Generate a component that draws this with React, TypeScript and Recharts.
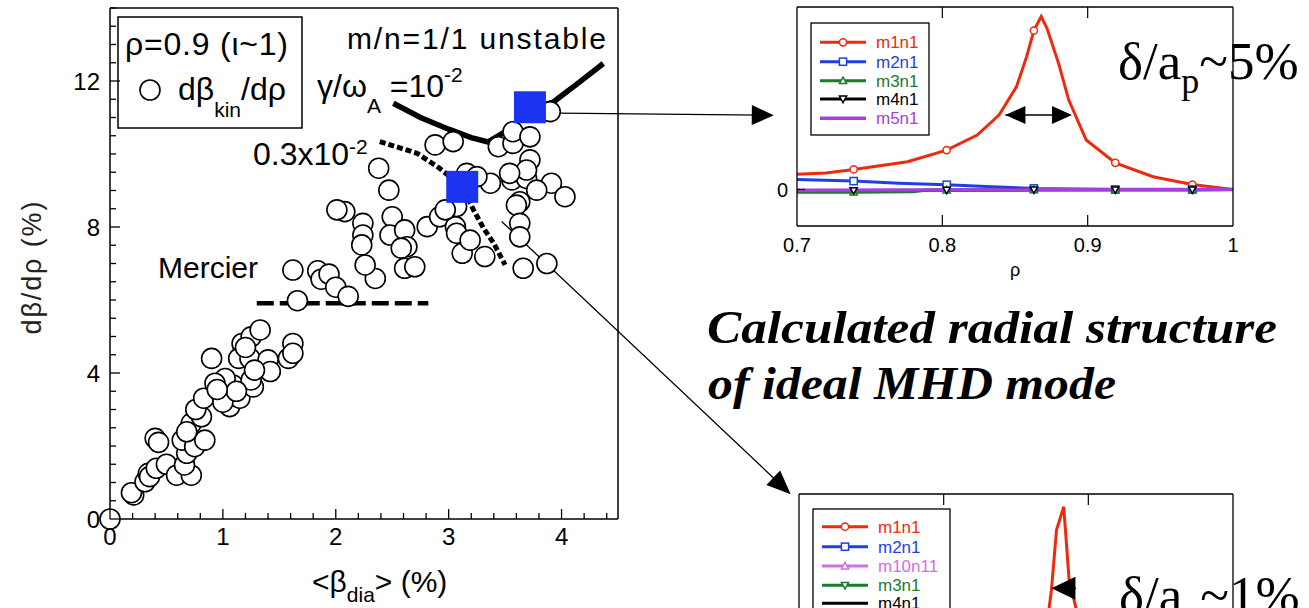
import React from 'react';
import { ComposedChart, Scatter, Line, XAxis, YAxis, ReferenceLine } from 'recharts';

const SANS = '"Liberation Sans", Arial, Helvetica, sans-serif';
const SERIF = '"Liberation Serif", "Times New Roman", serif';

const RED = '#ee2a0c';
const BLUE = '#1f3fe6';
const GREEN = '#1b7c2c';
const PURPLE = '#a440e0';
const ORCHID = '#d26ee4';
const SQUARE_BLUE = '#1a34f2';

// ---- main panel: <beta_dia> (%) vs d beta / d rho (%) at rho = 0.9
const betaTicks = [0, 0.2, 0.4, 0.6, 0.8, 1, 1.2, 1.4, 1.6, 1.8, 2, 2.2, 2.4, 2.6, 2.8, 3, 3.2, 3.4, 3.6, 3.8, 4, 4.2, 4.4];
const gradTicks = [0, 0.5, 1, 1.5, 2, 2.5, 3, 3.5, 4, 4.5, 5, 5.5, 6, 6.5, 7, 7.5, 8, 8.5, 9, 9.5, 10, 10.5, 11, 11.5, 12, 12.5, 13, 13.5, 14];

const kinetic = [
  { x: 0, y: 0 },
  { x: 0.21, y: 0.66 }, { x: 0.19, y: 0.72 }, { x: 0.31, y: 1.02 }, { x: 0.34, y: 1.25 }, { x: 0.35, y: 1.16 },
  { x: 0.41, y: 1.39 }, { x: 0.40, y: 2.21 }, { x: 0.43, y: 2.1 }, { x: 0.5, y: 1.5 }, { x: 0.59, y: 1.2 },
  { x: 0.72, y: 1.2 }, { x: 0.66, y: 1.48 }, { x: 0.68, y: 1.8 }, { x: 0.64, y: 2.16 }, { x: 0.75, y: 1.98 },
  { x: 0.84, y: 2.16 }, { x: 0.72, y: 2.62 }, { x: 0.68, y: 2.39 }, { x: 0.81, y: 2.8 }, { x: 0.76, y: 3.0 },
  { x: 0.83, y: 3.31 }, { x: 0.99, y: 3.4 }, { x: 1.06, y: 3.08 }, { x: 0.9, y: 4.4 }, { x: 1.09, y: 3.67 },
  { x: 1.15, y: 3.31 }, { x: 1.27, y: 3.62 }, { x: 1.17, y: 4.81 }, { x: 1.25, y: 4.99 }, { x: 1.33, y: 5.18 },
  { x: 1.14, y: 4.4 }, { x: 1.24, y: 4.4 }, { x: 1.4, y: 4.36 }, { x: 1.42, y: 4.04 }, { x: 1.58, y: 4.4 },
  { x: 1.62, y: 4.81 }, { x: 1.62, y: 4.54 }, { x: 1.02, y: 3.85 }, { x: 0.93, y: 3.72 }, { x: 1.25, y: 3.81 },
  { x: 1.28, y: 4.08 }, { x: 1.0, y: 3.2 }, { x: 1.12, y: 3.5 }, { x: 0.95, y: 3.55 }, { x: 1.2, y: 4.7 },
  { x: 1.66, y: 5.98 }, { x: 1.62, y: 6.82 }, { x: 1.84, y: 6.8 }, { x: 1.87, y: 6.57 }, { x: 1.94, y: 6.71 },
  { x: 2.0, y: 6.35 }, { x: 2.11, y: 6.1 }, { x: 2.35, y: 6.59 }, { x: 2.26, y: 6.96 },
  { x: 2.38, y: 9.61 }, { x: 2.47, y: 9.01 }, { x: 2.08, y: 8.42 }, { x: 2.01, y: 8.47 }, { x: 2.24, y: 8.1 },
  { x: 2.24, y: 7.78 }, { x: 2.23, y: 7.51 }, { x: 2.5, y: 8.28 }, { x: 2.48, y: 7.78 }, { x: 2.61, y: 7.92 },
  { x: 2.63, y: 7.46 }, { x: 2.58, y: 7.42 }, { x: 2.61, y: 6.87 }, { x: 2.7, y: 6.91 }, { x: 2.81, y: 8.01 },
  { x: 2.92, y: 8.28 }, { x: 3.06, y: 8.01 }, { x: 3.07, y: 7.83 }, { x: 3.12, y: 7.28 }, { x: 3.19, y: 7.64 },
  { x: 3.32, y: 7.19 }, { x: 2.88, y: 10.25 }, { x: 3.04, y: 10.34 }, { x: 3.44, y: 10.2 }, { x: 3.57, y: 10.29 },
  { x: 3.57, y: 10.61 }, { x: 3.72, y: 10.47 }, { x: 3.72, y: 9.84 }, { x: 3.37, y: 9.2 }, { x: 3.56, y: 9.29 },
  { x: 3.69, y: 9.33 }, { x: 3.69, y: 9.56 }, { x: 3.91, y: 9.2 }, { x: 4.03, y: 8.83 }, { x: 3.78, y: 9.01 },
  { x: 3.63, y: 8.69 }, { x: 3.6, y: 8.6 }, { x: 3.63, y: 8.1 }, { x: 3.63, y: 7.73 }, { x: 3.66, y: 6.87 },
  { x: 3.87, y: 7.0 }, { x: 3.16, y: 9.47 }, { x: 3.25, y: 9.38 }, { x: 3.07, y: 8.56 }, { x: 2.97, y: 8.47 },
  { x: 3.54, y: 9.47 }, { x: 3.9, y: 11.16 },
];

// shots picked for the mode structure calculation
const selected = [{ x: 3.72, y: 11.28 }, { x: 3.12, y: 9.1 }];

// unstable boundaries
const growth1e2 = [
  { x: 2.51, y: 11.39 }, { x: 2.75, y: 11.0 }, { x: 3.0, y: 10.68 }, { x: 3.2, y: 10.45 }, { x: 3.35, y: 10.33 },
  { x: 3.55, y: 10.7 }, { x: 3.72, y: 11.2 }, { x: 3.93, y: 11.43 }, { x: 4.15, y: 11.95 }, { x: 4.37, y: 12.48 },
];
const growth3e3 = [
  { x: 2.39, y: 10.34 }, { x: 2.72, y: 10.02 }, { x: 2.92, y: 9.61 }, { x: 3.12, y: 9.1 }, { x: 3.22, y: 8.47 },
  { x: 3.31, y: 7.96 }, { x: 3.4, y: 7.55 }, { x: 3.5, y: 6.96 },
];
const mercier = [{ x: 1.3, y: 5.91 }, { x: 2.82, y: 5.91 }];

// ---- insets: radial structure vs rho
const rhoTicks = [0.7, 0.8, 0.9, 1.0];

const topM1n1 = [
  { x: 0.7, y: 0.084 }, { x: 0.72, y: 0.091 }, { x: 0.739, y: 0.11, mk: true }, { x: 0.776, y: 0.152 },
  { x: 0.803, y: 0.216, mk: true }, { x: 0.824, y: 0.298 }, { x: 0.839, y: 0.408 }, { x: 0.851, y: 0.563 },
  { x: 0.858, y: 0.728 }, { x: 0.863, y: 0.871, mk: true }, { x: 0.868, y: 0.948 }, { x: 0.872, y: 0.883 },
  { x: 0.88, y: 0.691 }, { x: 0.887, y: 0.49 }, { x: 0.899, y: 0.271 }, { x: 0.919, y: 0.146, mk: true },
  { x: 0.945, y: 0.07 }, { x: 0.972, y: 0.027, mk: true }, { x: 1.0, y: 0 },
];
const topM2n1 = [
  { x: 0.7, y: 0.055 }, { x: 0.739, y: 0.046, mk: true }, { x: 0.77, y: 0.034 }, { x: 0.803, y: 0.026, mk: true },
  { x: 0.83, y: 0.016 }, { x: 0.863, y: 0.006, mk: true }, { x: 0.919, y: 0.0, mk: true }, { x: 0.972, y: 0, mk: true },
  { x: 1.0, y: 0 },
];
const topM3n1 = [
  { x: 0.7, y: -0.015 }, { x: 0.739, y: -0.015, mk: true }, { x: 0.78, y: -0.012 }, { x: 0.79, y: -0.003 },
  { x: 0.803, y: -0.003, mk: true }, { x: 0.863, y: -0.002, mk: true }, { x: 0.919, y: -0.002, mk: true },
  { x: 0.972, y: -0.002, mk: true }, { x: 1.0, y: 0 },
];
const topM4n1 = [
  { x: 0.7, y: -0.006 }, { x: 0.739, y: -0.006, mk: true }, { x: 0.803, y: -0.004, mk: true },
  { x: 0.863, y: -0.002, mk: true }, { x: 0.919, y: -0.002, mk: true }, { x: 0.972, y: -0.002, mk: true }, { x: 1.0, y: 0 },
];
const topM5n1 = [
  { x: 0.7, y: -0.004 }, { x: 0.803, y: -0.003 }, { x: 0.863, y: -0.002 }, { x: 0.919, y: 0 }, { x: 1.0, y: 0 },
];

const lowM1n1 = [
  { x: 0.7, y: 0.0 }, { x: 0.739, y: 0.005, mk: true }, { x: 0.803, y: 0.02, mk: true }, { x: 0.86, y: 0.08 },
  { x: 0.87, y: 0.2 }, { x: 0.8745, y: 0.474 }, { x: 0.878, y: 0.803 }, { x: 0.883, y: 0.93 }, { x: 0.8867, y: 0.529 },
  { x: 0.8915, y: 0.375 }, { x: 0.9, y: 0.1 }, { x: 0.919, y: 0.03, mk: true }, { x: 0.972, y: 0.01, mk: true }, { x: 1.0, y: 0 },
];
const lowM2n1 = [{ x: 0.7, y: 0.01 }, { x: 0.803, y: 0.005, mk: true }, { x: 0.919, y: 0, mk: true }, { x: 1.0, y: 0 }];
const lowM10n11 = [{ x: 0.7, y: 0 }, { x: 0.803, y: 0, mk: true }, { x: 0.919, y: 0, mk: true }, { x: 1.0, y: 0 }];
const lowM3n1 = [{ x: 0.7, y: -0.005 }, { x: 0.803, y: -0.003, mk: true }, { x: 0.919, y: 0, mk: true }, { x: 1.0, y: 0 }];
const lowM4n1 = [{ x: 0.7, y: 0 }, { x: 0.919, y: 0 }, { x: 1.0, y: 0 }];

type Pt = { x: number; y: number; mk?: boolean };
type Series = { name: string; color: string; marker: string; width: number; data: Pt[] };

const topSeries: Series[] = [
  { name: 'm1n1', color: RED, marker: 'circle', width: 3, data: topM1n1 },
  { name: 'm2n1', color: BLUE, marker: 'square', width: 3, data: topM2n1 },
  { name: 'm3n1', color: GREEN, marker: 'triangle', width: 3, data: topM3n1 },
  { name: 'm4n1', color: '#000', marker: 'down', width: 3, data: topM4n1 },
  { name: 'm5n1', color: PURPLE, marker: 'none', width: 3.5, data: topM5n1 },
];
const lowSeries: Series[] = [
  { name: 'm1n1', color: RED, marker: 'circle', width: 3, data: lowM1n1 },
  { name: 'm2n1', color: BLUE, marker: 'square', width: 3, data: lowM2n1 },
  { name: 'm10n11', color: ORCHID, marker: 'triangle', width: 3, data: lowM10n11 },
  { name: 'm3n1', color: GREEN, marker: 'down', width: 3, data: lowM3n1 },
  { name: 'm4n1', color: '#000', marker: 'none', width: 3, data: lowM4n1 },
];

function Marker({ type, cx, cy, color, s = 3.6 }: any) {
  if (type === 'circle') return <circle cx={cx} cy={cy} r={s} fill="#fff" stroke={color} strokeWidth={1.5} />;
  if (type === 'square') return <rect x={cx - s} y={cy - s} width={2 * s} height={2 * s} fill="#fff" stroke={color} strokeWidth={1.5} />;
  if (type === 'triangle')
    return <polygon points={`${cx},${cy - s} ${cx - s},${cy + s * 0.8} ${cx + s},${cy + s * 0.8}`} fill="#fff" stroke={color} strokeWidth={1.5} />;
  if (type === 'down')
    return <polygon points={`${cx},${cy + s} ${cx - s},${cy - s * 0.8} ${cx + s},${cy - s * 0.8}`} fill="#fff" stroke={color} strokeWidth={1.5} />;
  return null;
}

function arrowShape(both: boolean, len: number, half: number, sw: number) {
  return (p: any) => {
    const { x1, y1, x2, y2 } = p;
    const dx = x2 - x1;
    const dy = y2 - y1;
    const d = Math.hypot(dx, dy) || 1;
    const ux = dx / d;
    const uy = dy / d;
    const head = (tx: number, ty: number, ax: number, ay: number) => {
      const bx = tx - ax * len;
      const by = ty - ay * len;
      return `${tx},${ty} ${bx - ay * half},${by + ax * half} ${bx + ay * half},${by - ax * half}`;
    };
    return (
      <g>
        <line x1={x1} y1={y1} x2={x2 - ux * len * 0.5} y2={y2 - uy * len * 0.5} stroke="#000" strokeWidth={sw} />
        <polygon points={head(x2, y2, ux, uy)} fill="#000" />
        {both && <polygon points={head(x1, y1, -ux, -uy)} fill="#000" />}
      </g>
    );
  };
}

const isInt = (v: number) => Math.abs(v - Math.round(v)) < 1e-6;

const mainTick = (side: string) => (p: any) => {
  const { x, y, payload } = p;
  const v = payload.value;
  const horiz = side === 'bottom' || side === 'top';
  const major = horiz ? isInt(v) : isInt(v / 4);
  const len = major ? 10 : 6;
  const sw = 1.3;
  if (side === 'bottom')
    return (
      <g>
        <line x1={x} x2={x} y1={y} y2={y - len} stroke="#000" strokeWidth={sw} />
        {major && (
          <text x={x} y={y + 26} textAnchor="middle" fontSize={24} fontFamily={SANS} fill="#000">{v}</text>
        )}
      </g>
    );
  if (side === 'top') return <line x1={x} x2={x} y1={y} y2={y + len} stroke="#000" strokeWidth={sw} />;
  if (side === 'left')
    return (
      <g>
        <line x1={x} x2={x + len} y1={y} y2={y} stroke="#000" strokeWidth={sw} />
        {major && (
          <text x={x - 10} y={y + 9} textAnchor="end" fontSize={24} fontFamily={SANS} fill="#000">{v}</text>
        )}
      </g>
    );
  return <line x1={x} x2={x - len} y1={y} y2={y} stroke="#000" strokeWidth={sw} />;
};

const insetTick = (side: string, labels: boolean) => (p: any) => {
  const { x, y, payload } = p;
  const v = payload.value;
  const inner = v > 0.71 && v < 0.99;
  if (side === 'bottom')
    return (
      <g>
        {inner && <line x1={x} x2={x} y1={y} y2={y - 11} stroke="#000" strokeWidth={1.2} />}
        {labels && (
          <text x={x} y={y + 26} textAnchor="middle" fontSize={20} fontFamily={SANS} fill="#000">
            {v === 1 ? '1' : v.toFixed(1)}
          </text>
        )}
      </g>
    );
  if (side === 'top') return inner ? <line x1={x} x2={x} y1={y} y2={y + 11} stroke="#000" strokeWidth={1.2} /> : <g />;
  return (
    <g>
      <line x1={x} x2={x + 8} y1={y} y2={y} stroke="#000" strokeWidth={1.2} />
      {labels && (
        <text x={x - 9} y={y + 7} textAnchor="end" fontSize={20} fontFamily={SANS} fill="#000">{v}</text>
      )}
    </g>
  );
};

const axisStroke = { stroke: '#000', strokeWidth: 1.5 };

function MainPanel() {
  return (
    <div style={{ position: 'absolute', left: 0, top: 0 }}>
      <ComposedChart width={1309} height={608} margin={{ top: 7, right: 690, bottom: 0, left: 0 }}>
        <XAxis dataKey="x" type="number" domain={[0, 4.5]} ticks={betaTicks} interval={0}
          tickSize={0} tickMargin={0} tickLine={false} axisLine={axisStroke} height={89} tick={mainTick('bottom')} />
        <XAxis xAxisId="top" orientation="top" dataKey="x" type="number" domain={[0, 4.5]} ticks={betaTicks}
          interval={0} tickSize={0} tickMargin={0} tickLine={false} axisLine={axisStroke} height={1} tick={mainTick('top')} />
        <YAxis dataKey="y" type="number" domain={[0, 14]} ticks={gradTicks} interval={0}
          tickSize={0} tickMargin={0} tickLine={false} axisLine={axisStroke} width={110} tick={mainTick('left')} />
        <YAxis yAxisId="right" orientation="right" dataKey="y" type="number" domain={[0, 14]} ticks={gradTicks}
          interval={0} tickSize={0} tickMargin={0} tickLine={false} axisLine={axisStroke} width={1} tick={mainTick('right')} />

        <Line data={growth1e2} dataKey="y" type="linear" stroke="#000" strokeWidth={5.5} dot={false} isAnimationActive={false} />
        <Line data={growth3e3} dataKey="y" type="linear" stroke="#000" strokeWidth={5} strokeDasharray="6 3" dot={false} isAnimationActive={false} />
        <Line data={mercier} dataKey="y" type="linear" stroke="#000" strokeWidth={4.5} strokeDasharray="17 6" dot={false} isAnimationActive={false} />

        <Scatter data={kinetic} isAnimationActive={false}
          shape={(p: any) => <circle cx={p.cx} cy={p.cy} r={10} fill="#fff" stroke="#000" strokeWidth={1.6} />} />
        <Scatter data={selected} isAnimationActive={false}
          shape={(p: any) => <rect x={p.cx - 16} y={p.cy - 16} width={32} height={32} fill={SQUARE_BLUE} />} />

        <ReferenceLine ifOverflow="visible" segment={[{ x: 3.97, y: 11.12 }, { x: 5.88, y: 11.06 }]} shape={arrowShape(false, 22, 10, 1.3)} />
        <ReferenceLine ifOverflow="visible" segment={[{ x: 3.47, y: 8.15 }, { x: 6.03, y: 0.68 }]} shape={arrowShape(false, 24, 10, 1.3)} />
      </ComposedChart>
    </div>
  );
}

function InsetPanel({ left, top, height, marginTop, yWidth, series, arrows, labels }: any) {
  const frame = { stroke: '#000', strokeWidth: 1.3 };
  return (
    <div style={{ position: 'absolute', left, top }}>
      <ComposedChart width={549} height={height} margin={{ top: marginTop, right: 75, bottom: 0, left: 0 }}>
        <XAxis dataKey="x" type="number" domain={[0.7, 1.0]} allowDataOverflow ticks={rhoTicks} interval={0}
          tickSize={0} tickMargin={0} tickLine={false} axisLine={frame} height={61} tick={insetTick('bottom', labels)} />
        <XAxis xAxisId="top" orientation="top" dataKey="x" type="number" domain={[0.7, 1.0]} allowDataOverflow ticks={rhoTicks}
          interval={0} tickSize={0} tickMargin={0} tickLine={false} axisLine={frame} height={1} tick={insetTick('top', labels)} />
        <YAxis dataKey="y" type="number" domain={[-0.2, 1.0]} allowDataOverflow ticks={[0]} interval={0}
          tickSize={0} tickMargin={0} tickLine={false} axisLine={frame} width={yWidth} tick={insetTick('left', labels)} />
        <YAxis yAxisId="right" orientation="right" type="number" domain={[-0.2, 1.0]} allowDataOverflow tick={false}
          tickLine={false} axisLine={frame} width={1} />
        {series.map((s: Series) => (
          <Line key={s.name} data={s.data} dataKey="y" name={s.name} type="linear" stroke={s.color} strokeWidth={s.width}
            isAnimationActive={false}
            dot={(p: any) =>
              p.payload && p.payload.mk && s.marker !== 'none' ? (
                <Marker key={p.index} type={s.marker} cx={p.cx} cy={p.cy} color={s.color} />
              ) : (
                <g key={p.index} />
              )
            } />
        ))}
        {arrows.map((a: any, i: number) => (
          <ReferenceLine key={i} ifOverflow="visible" segment={a.seg} shape={arrowShape(a.both, a.len, a.half, 1.5)} />
        ))}
      </ComposedChart>
    </div>
  );
}

function SeriesLegend({ x, y, w, h, rowY, series }: any) {
  return (
    <g>
      <rect x={x} y={y} width={w} height={h} fill="#fff" stroke="#000" strokeWidth={1.3} />
      {series.map((s: Series, i: number) => (
        <g key={s.name}>
          <line x1={x + 9} x2={x + 55} y1={rowY[i]} y2={rowY[i]} stroke={s.color} strokeWidth={s.width} />
          <Marker type={s.marker} cx={x + 32} cy={rowY[i]} color={s.color} />
          <text x={x + 65} y={rowY[i] + 6} fontSize={17} fontFamily={SANS} fill={s.color}>{s.name}</text>
        </g>
      ))}
    </g>
  );
}

function Annotations() {
  return (
    <svg width={1309} height={608} style={{ position: 'absolute', left: 0, top: 0 }}>
      {/* main panel key */}
      <rect x={118} y={17} width={184} height={111} fill="none" stroke="#000" strokeWidth={1.5} />
      <text x={125} y={55} fontSize={32} fontFamily={SANS} textLength={163}>ρ=0.9 (ι~1)</text>
      <circle cx={150} cy={90} r={10} fill="#fff" stroke="#000" strokeWidth={1.6} />
      <text x={178} y={100} fontSize={32} fontFamily={SANS}>
        dβ<tspan fontSize={21} dy={17}>kin</tspan><tspan dy={-17}>/dρ</tspan>
      </text>

      <text x={347} y={49} fontSize={30} fontFamily={SANS} textLength={259}>m/n=1/1 unstable</text>
      <text x={317} y={97} fontSize={32} fontFamily={SANS}>
        γ/ω<tspan fontSize={21} dy={16}>A</tspan><tspan dy={-16}> =10</tspan><tspan fontSize={21} dy={-15}>-2</tspan>
      </text>
      <text x={253} y={165} fontSize={32} fontFamily={SANS}>
        0.3x10<tspan fontSize={21} dy={-11}>-2</tspan>
      </text>
      <text x={158} y={278} fontSize={30} fontFamily={SANS}>Mercier</text>

      {/* main axis titles */}
      <text x={312} y={592} fontSize={30} fontFamily={SANS}>
        {'<β'}<tspan fontSize={21} dy={10}>dia</tspan><tspan dy={-10}>{'> (%)'}</tspan>
      </text>
      <text transform="translate(41,268) rotate(-90)" textAnchor="middle" fontSize={27} fontFamily={SANS} fill="#222"
        textLength={133}>
        dβ/dρ (%)
      </text>

      {/* insets */}
      <SeriesLegend x={811} y={23} w={118} h={112} rowY={[42.3, 61.7, 80.7, 99, 118.3]} series={topSeries} />
      <SeriesLegend x={813} y={509} w={137} h={130} rowY={[526.7, 546.7, 566, 585.3, 603.3]} series={lowSeries} />
      <text x={1015} y={276} textAnchor="middle" fontSize={18} fontFamily={SANS}>ρ</text>

      <text x={1118} y={79} fontSize={53} fontFamily={SERIF}>
        δ/a<tspan fontSize={36} dy={14}>p</tspan><tspan dy={-14}>~5%</tspan>
      </text>
      <text x={1119} y={613} fontSize={53} fontFamily={SERIF}>
        δ/a<tspan fontSize={36} dy={14}>p</tspan><tspan dy={-14}>~1%</tspan>
      </text>

      <text x={707} y={343} fontSize={46} fontFamily={SERIF} fontWeight="bold" fontStyle="italic" textLength={570} lengthAdjust="spacingAndGlyphs">
        Calculated radial structure
      </text>
      <text x={708} y={399} fontSize={46} fontFamily={SERIF} fontWeight="bold" fontStyle="italic" textLength={408} lengthAdjust="spacingAndGlyphs">
        of ideal MHD mode
      </text>
    </svg>
  );
}

export default function App() {
  return (
    <div style={{ position: 'fixed', left: 0, top: 0, width: 1309, height: 608, overflow: 'hidden', background: '#fff' }}>
      <MainPanel />
      <InsetPanel left={760} top={0} height={287} marginTop={6} yWidth={37} series={topSeries} labels
        arrows={[{ seg: [{ x: 0.8434, y: 0.408 }, { x: 0.8892, y: 0.408 }], both: true, len: 20, half: 9 }]} />
      <InsetPanel left={760} top={480} height={294} marginTop={13} yWidth={39} series={lowSeries} labels={false}
        arrows={[{ seg: [{ x: 0.8915, y: 0.483 }, { x: 0.8745, y: 0.483 }], both: false, len: 24, half: 11.5 }]} />
      <Annotations />
    </div>
  );
}
